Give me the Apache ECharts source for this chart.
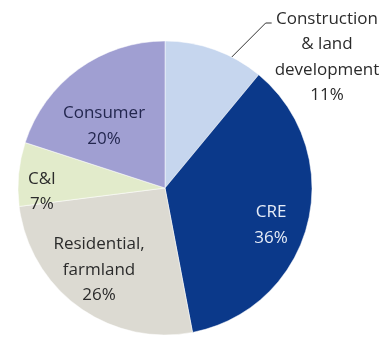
<!DOCTYPE html>
<html>
<head>
<meta charset="utf-8">
<script src="https://cdn.jsdelivr.net/npm/echarts@6/dist/echarts.min.js"></script>
<style>
  html, body { margin: 0; padding: 0; background: #ffffff; }
  #chart { width: 390px; height: 339px; }
</style>
</head>
<body>
<div id="chart"></div>
<script>
// Loan portfolio composition, clockwise from 12 o'clock
const categories = ['Construction\n& land\ndevelopment', 'CRE', 'Residential,\nfarmland', 'C&I', 'Consumer'];
const shares = [11, 36, 26, 7, 20];

// Slice fills and label text colours
const sliceColors = ['#c6d6ee', '#0b398a', '#dcdad2', '#e2ebcb', '#a09fd2'];
const labelColors = ['#2b2b2b', '#e6ecf7', '#2b2b2b', '#2b2b2b', '#23274f'];

// Pixel nudges applied to each inside label
const labelNudge = [[0, 0], [32, 18], [-21, 20], [-47, 11], [-16, 0]];

const PIE_CENTER = [165, 188];
const PIE_RADIUS = 147;

const chart = echarts.init(document.getElementById('chart'), null, { renderer: 'canvas' });

const pieData = categories.map((name, i) => ({
  name: name,
  value: shares[i],
  itemStyle: { color: sliceColors[i] },
  label: {
    position: i === 0 ? 'outside' : 'inside',
    color: labelColors[i]
  },
  labelLine: { show: i === 0 }
}));

chart.setOption({
  animation: false,
  backgroundColor: '#ffffff',
  series: [{
    type: 'pie',
    center: PIE_CENTER,
    radius: PIE_RADIUS,
    startAngle: 90,
    clockwise: true,
    avoidLabelOverlap: false,
    itemStyle: { borderColor: '#ffffff', borderWidth: 0.5 },
    label: {
      show: true,
      fontFamily: 'Open Sans',
      fontSize: 17,
      lineHeight: 25.5,
      align: 'center',
      formatter: p => p.name + '\n' + p.value + '%'
    },
    labelLine: {
      show: false,
      length: 20,
      length2: 8,
      lineStyle: { color: '#333333', width: 1 }
    },
    labelLayout: function (params) {
      const i = params.dataIndex;
      if (i === 0) {
        const w = params.labelRect.width;
        const h = params.labelRect.height;
        const x = PIE_CENTER[0] + 162;
        const y = PIE_CENTER[1] - 131;
        const a = 63 * Math.PI / 180;
        const start = [PIE_CENTER[0] + PIE_RADIUS * Math.cos(a), PIE_CENTER[1] - PIE_RADIUS * Math.sin(a)];
        const left = x - w / 2;
        const top = y - h / 2;
        return {
          x: x,
          y: y,
          align: 'center',
          verticalAlign: 'middle',
          labelLinePoints: [start, [left - 9, top + 17], [left - 3, top + 17]]
        };
      }
      return { dx: labelNudge[i][0], dy: labelNudge[i][1] };
    },
    data: pieData
  }]
});
</script>
</body>
</html>
